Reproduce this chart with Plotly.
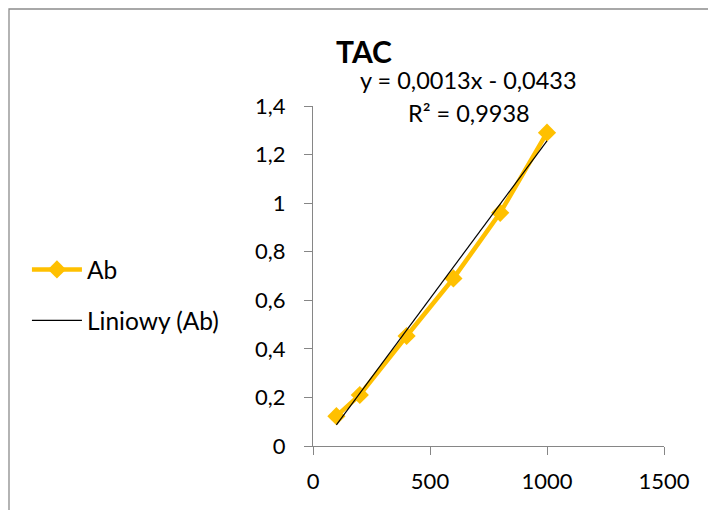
import numpy as np
import plotly.graph_objects as go

# data
x_vals = [100, 200, 400, 600, 800, 1000]
ab_vals = [0.123, 0.21, 0.453, 0.69, 0.96, 1.29]
series_name = "Ab"
trend_name = "Liniowy (Ab)"
slope = 0.0013
intercept = -0.0433
title_text = "TAC"
eq_text = "y = 0,0013x - 0,0433"
r2_text = "R² = 0,9938"

FONT = "Lato"
trend_x = [min(x_vals), max(x_vals)]
trend_y = [slope * v + intercept for v in trend_x]

# plot area in screenshot pixels (page has 8px body offset)
PL, PR, PT, PB = 313, 664, 106, 446
PW, PH = PR - PL, PB - PT
OFF = 8
ML, MT = PL - OFF, PT - OFF
W, H = 716, 510


def px(xp):
    return (xp - PL) / PW


def py(yp):
    return (PB - yp) / PH


fig = go.Figure()
fig.add_trace(go.Scatter(
    x=x_vals, y=ab_vals, mode="lines+markers", name=series_name,
    line=dict(color="#FFC000", width=4.5),
    marker=dict(symbol="diamond", size=14, color="#FFC000"),
    legendgroup="a",
))
fig.add_trace(go.Scatter(
    x=trend_x, y=trend_y, mode="lines", name=trend_name,
    line=dict(color="black", width=1.2),
    legendgroup="b",
))

axis_common = dict(
    showgrid=False, zeroline=False, showline=True, linecolor="#868686", linewidth=1.3,
    ticks="outside", ticklen=8, tickcolor="#868686", tickwidth=1.3,
    tickfont=dict(family=FONT, size=22, color="black"),
)
fig.update_xaxes(range=[0, 1500], dtick=500, tick0=0, ticklabelstandoff=7, **axis_common)
fig.update_yaxes(range=[0, 1.4], dtick=0.2, tick0=0, ticklabelstandoff=14, **axis_common)

fig.update_layout(
    width=W, height=H,
    margin=dict(l=ML, r=W - ML - PW, t=MT, b=H - MT - PH),
    paper_bgcolor="white", plot_bgcolor="white",
    separators=", ",
    font=dict(family=FONT, size=22, color="black"),
    showlegend=True,
    legend=dict(
        x=-0.815, y=0.444, xanchor="left", yanchor="middle",
        font=dict(family=FONT, size=24.5, color="black"),
        bgcolor="rgba(0,0,0,0)", traceorder="grouped", tracegroupgap=16,
        itemwidth=50,
    ),
    shapes=[dict(
        type="rect", xref="paper", yref="paper",
        x0=(-ML + 1) / PW, x1=1.3, y0=-0.4, y1=(PH + MT - 1) / PH,
        line=dict(color="#8c8c8c", width=1.3), fillcolor="rgba(0,0,0,0)",
    )],
    annotations=[
        dict(text="<b>" + title_text + "</b>", xref="paper", yref="paper",
             x=px(363.5), y=py(51.5), xanchor="center", yanchor="middle",
             showarrow=False, font=dict(family=FONT, size=30, color="black")),
        dict(text=eq_text, xref="paper", yref="paper",
             x=px(468.5), y=py(80), xanchor="center", yanchor="middle",
             showarrow=False, font=dict(family=FONT, size=23.5, color="black")),
        dict(text=r2_text, xref="paper", yref="paper",
             x=px(469), y=py(113), xanchor="center", yanchor="middle",
             showarrow=False, font=dict(family=FONT, size=23.5, color="black")),
    ],
)

fig.write_html("out.html")
